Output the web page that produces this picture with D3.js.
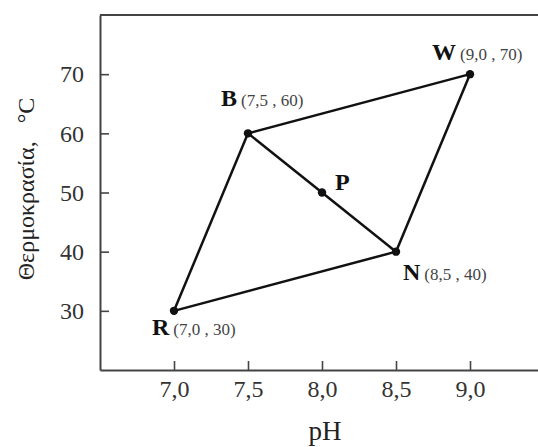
<!DOCTYPE html>
<html>
<head>
<meta charset="utf-8">
<script src="https://cdn.jsdelivr.net/npm/d3@7"></script>
<style>
    body { margin: 0; background: #fff; }
    svg { display: block; font-family: "Liberation Serif", "Times New Roman", serif; }
</style>
</head>
<body>
<div id="chart"></div>
<script>
// points of the diagram
let pointNames = ["R", "B", "W", "N", "P"]
let phValues = [7.0, 7.5, 9.0, 8.5, 8.0]
let tempValues = [30, 60, 70, 40, 50]
let showCoords = [true, true, true, true, false]

// segments between the points
let edges = [["R", "B"], ["B", "W"], ["W", "N"], ["N", "R"], ["B", "N"]]

let xTicks = [7.0, 7.5, 8.0, 8.5, 9.0]
let yTicks = [30, 40, 50, 60, 70]
let xDomain = [6.5, 9.5]
let yDomain = [20, 80]

let width = 538, height = 447
let padding = { left: 100, right: -6, top: 15, bottom: 77 }

// where each label goes relative to its point (layout only)
let labelOffset = {
    R: [-22, 24],
    B: [-27, -27],
    W: [-38, -14],
    N: [7, 28],
    P: [13, -3]
}

let comma = d => d3.format(".1f")(d).replace(".", ",")

let svg = d3.select("#chart").append("svg")
    .attr("width", width).attr("height", height)

let xScale = d3.scaleLinear().domain(xDomain).range([padding.left, width - padding.right])
let yScale = d3.scaleLinear().domain(yDomain).range([height - padding.bottom, padding.top])

// axes with inward ticks
let xAxis = d3.axisBottom(xScale)
    .tickValues(xTicks)
    .tickFormat(comma)
    .tickSizeInner(-9)
    .tickSizeOuter(0)
    .tickPadding(10)
let yAxis = d3.axisLeft(yScale)
    .tickValues(yTicks)
    .tickSizeInner(-9)
    .tickSizeOuter(0)
    .tickPadding(16)

let gx = svg.append("g")
    .attr("transform", `translate(0, ${yScale(yDomain[0])})`)
    .call(xAxis)
let gy = svg.append("g")
    .attr("transform", `translate(${xScale(xDomain[0])}, 0)`)
    .call(yAxis)

// top frame line
svg.append("line")
    .attr("x1", xScale(xDomain[0])).attr("x2", xScale(xDomain[1]))
    .attr("y1", yScale(yDomain[1])).attr("y2", yScale(yDomain[1]))
    .attr("stroke", "#444").attr("stroke-width", 2)

for (let g of [gx, gy]) {
    g.select(".domain").attr("stroke", "#444").attr("stroke-width", 2)
    g.selectAll(".tick line").attr("stroke", "#444").attr("stroke-width", 1.6)
    g.selectAll(".tick text")
        .attr("fill", "#333")
        .style("font-family", "'Liberation Serif', 'Times New Roman', serif")
        .style("font-size", "24px")
}

// axis labels
svg.append("text")
    .attr("x", xScale(8.0) + 3)
    .attr("y", 440)
    .attr("text-anchor", "middle")
    .attr("fill", "#222")
    .style("font-size", "27px")
    .text("pH")
svg.append("text")
    .attr("transform", `translate(34, 189) rotate(-90)`)
    .attr("text-anchor", "middle")
    .attr("fill", "#222")
    .style("font-size", "24px")
    .text("Θερμοκρασία,\u00a0\u00a0\u00a0°C")

// build point lookup
let points = d3.zip(pointNames, phValues, tempValues, showCoords).map(function(p) {
    return { name: p[0], ph: p[1], temp: p[2], coords: p[3] }
})
let byName = {}
for (let p of points) byName[p.name] = p

// segments
svg.selectAll(".edge")
    .data(edges)
    .enter()
    .append("line")
    .attr("class", "edge")
    .attr("x1", d => xScale(byName[d[0]].ph))
    .attr("y1", d => yScale(byName[d[0]].temp))
    .attr("x2", d => xScale(byName[d[1]].ph))
    .attr("y2", d => yScale(byName[d[1]].temp))
    .attr("stroke", "#111")
    .attr("stroke-width", 2.5)

// dots
svg.selectAll(".dot")
    .data(points)
    .enter()
    .append("circle")
    .attr("class", "dot")
    .attr("cx", d => xScale(d.ph))
    .attr("cy", d => yScale(d.temp))
    .attr("r", 4.2)
    .attr("fill", "#111")

// labels: bold letter plus coordinates
let labels = svg.selectAll(".point-label")
    .data(points)
    .enter()
    .append("text")
    .attr("class", "point-label")
    .attr("x", d => xScale(d.ph) + labelOffset[d.name][0])
    .attr("y", d => yScale(d.temp) + labelOffset[d.name][1])
labels.append("tspan")
    .attr("fill", "#111")
    .style("font-weight", "bold")
    .style("font-size", "24px")
    .text(d => d.name)
labels.filter(d => d.coords)
    .append("tspan")
    .attr("dx", 4)
    .attr("fill", "#444")
    .style("font-size", "17px")
    .text(d => `(${comma(d.ph)} , ${d.temp})`)
</script>
</body>
</html>
